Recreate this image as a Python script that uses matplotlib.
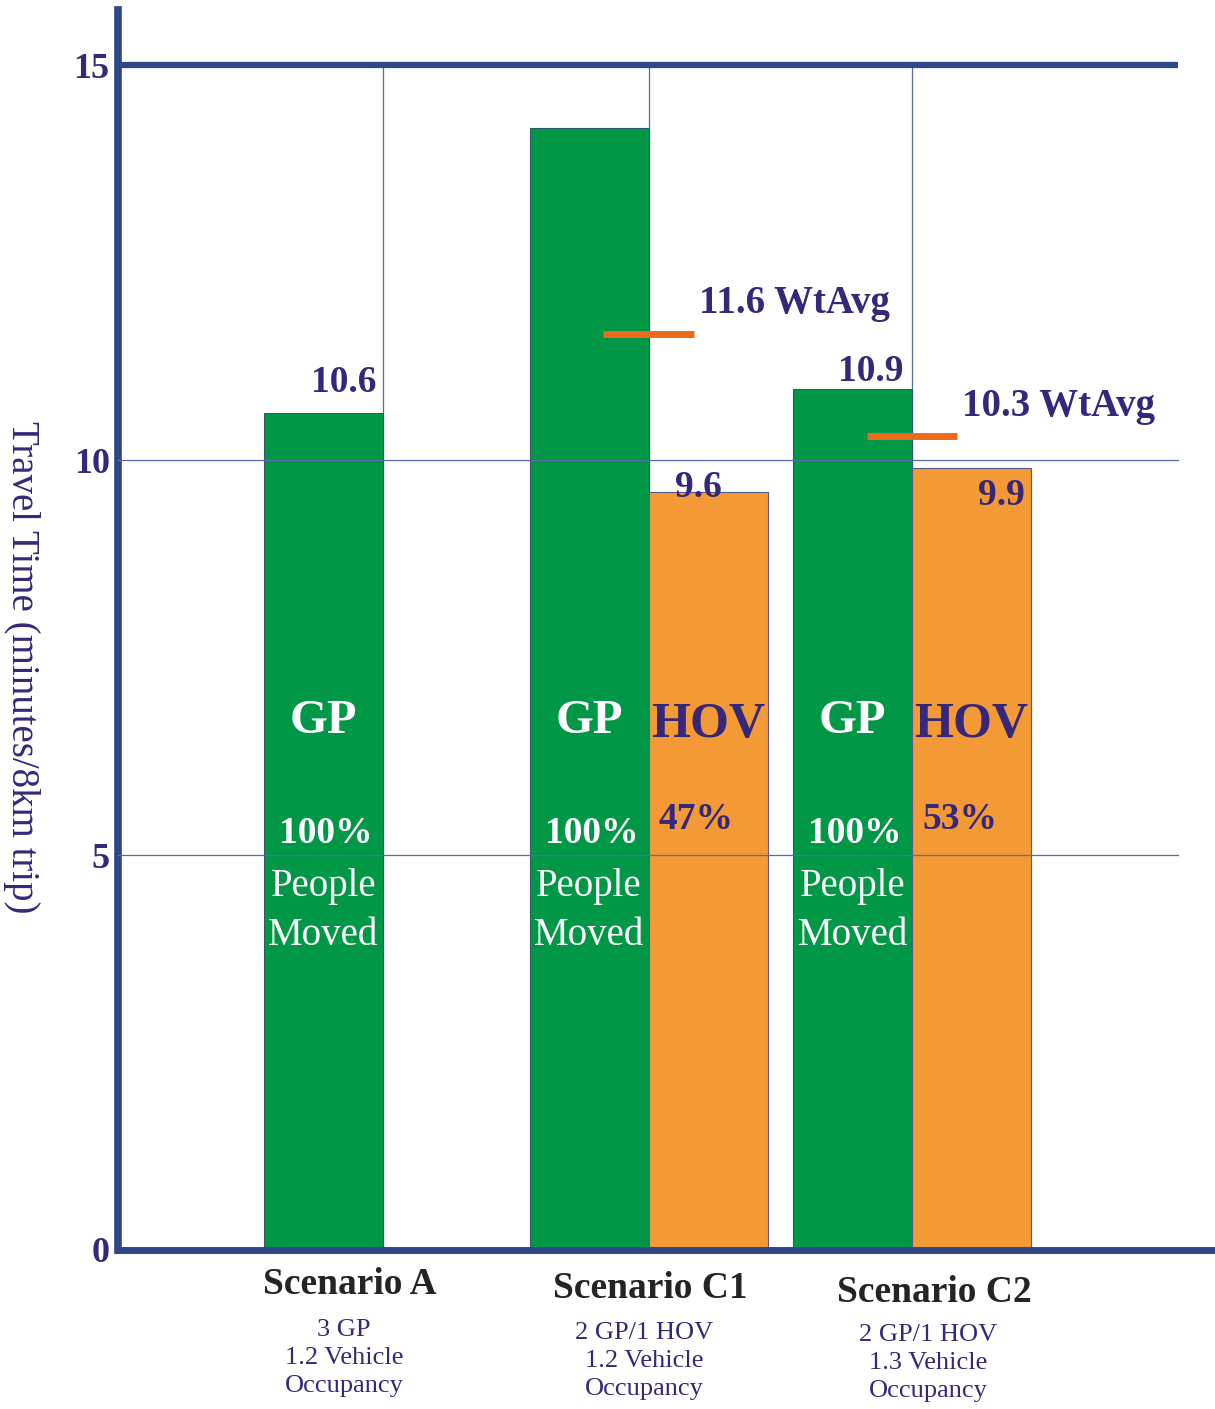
import matplotlib.pyplot as plt

plt.rcParams['font.family'] = ['Liberation Serif', 'DejaVu Serif']

# travel time per scenario (minutes / 8 km trip)
scenarios = ['Scenario A', 'Scenario C1', 'Scenario C2']
sublabels = ['3 GP\n1.2 Vehicle\nOccupancy',
             '2 GP/1 HOV\n1.2 Vehicle\nOccupancy',
             '2 GP/1 HOV\n1.3 Vehicle\nOccupancy']
gp_time = [10.6, 14.2, 10.9]
hov_time = [None, 9.6, 9.9]
wt_avg = [None, 11.6, 10.3]
gp_share = ['100%', '100%', '100%']
hov_share = [None, '47%', '53%']
gp_labels = ['10.6', None, '10.9']
hov_labels = [None, '9.6', '9.9']

NAVY = '#35277a'
AXIS = '#2f4789'
GREEN = '#009846'
ORANGE = '#f39a36'
AVG = '#ec6a1c'

fig = plt.figure(figsize=(12.15, 14.09), dpi=100)
ax = fig.add_axes([0.0971, 0.1129, 0.9029, 0.8800])

pos = [2.225, 4.46, 6.675]
w = 1.0
ax.set_xlim(0, 9.22)
ax.set_ylim(0, 15.7)

for i, p in enumerate(pos):
    ax.bar(p - w / 2, gp_time[i], width=w, color=GREEN, edgecolor='#2d5a6e',
           linewidth=0.8, zorder=2)
    if hov_time[i] is not None:
        ax.bar(p + w / 2, hov_time[i], width=w, color=ORANGE, edgecolor='#5a5a90',
               linewidth=0.8, zorder=2)
    if wt_avg[i] is not None:
        ax.plot([p - 0.38, p + 0.38], [wt_avg[i], wt_avg[i]], color=AVG,
                linewidth=5, solid_capstyle='butt', zorder=4)
        ax.text(p + 0.42, wt_avg[i] + 0.38, f'{wt_avg[i]:.1f} WtAvg',
                fontsize=28, fontweight='bold', color=NAVY, ha='left', va='center')

# grid: horizontal lines drawn over the bars, vertical ones behind
for yv in (5, 10):
    ax.plot([0, 8.91], [yv, yv], color='#5a6aa8', linewidth=0.9, zorder=3)
ax.plot([0, 8.91], [15, 15], color=AXIS, linewidth=4.5, zorder=3,
        solid_capstyle='butt')
for p in pos:
    ax.plot([p, p], [0, 15], color='#5a6aa8', linewidth=0.9, zorder=1)

# value labels
ax.text(pos[0] - 0.33, 10.6 + 0.38, gp_labels[0], fontsize=27, fontweight='bold',
        color=NAVY, ha='center', va='center')
ax.text(pos[2] - 0.35, 10.9 + 0.22, gp_labels[2], fontsize=27, fontweight='bold',
        color=NAVY, ha='center', va='center')
ax.text(pos[1] + 0.42, 9.6 + 0.06, hov_labels[1], fontsize=27, fontweight='bold',
        color=NAVY, ha='center', va='center')
ax.text(pos[2] + 0.75, 9.9 - 0.35, hov_labels[2], fontsize=27, fontweight='bold',
        color=NAVY, ha='center', va='center')

# text inside bars
for i, p in enumerate(pos):
    gx = p - w / 2
    ax.text(gx, 6.7, 'GP', fontsize=35, fontweight='bold', color='white',
            ha='center', va='center', zorder=5)
    ax.text(gx + 0.02, 5.27, gp_share[i], fontsize=27, fontweight='bold',
            color='white', ha='center', va='center', zorder=5)
    ax.text(gx, 4.6, 'People', fontsize=28, color='white', ha='center',
            va='center', zorder=5)
    ax.text(gx, 3.98, 'Moved', fontsize=28, color='white', ha='center',
            va='center', zorder=5)
    if hov_share[i] is not None:
        hx = p + w / 2
        ax.text(hx, 6.65, 'HOV', fontsize=36, fontweight='bold', color=NAVY,
                ha='center', va='center', zorder=5)
        ax.text(hx - 0.1, 5.45, hov_share[i], fontsize=27, fontweight='bold',
                color=NAVY, ha='center', va='center', zorder=5)

# category labels under the axis
cat_x = [1.95, 4.47, 6.86]
for i, cx in enumerate(cat_x):
    ax.text(cx, -0.44 - 0.05 * i, scenarios[i], fontsize=27, fontweight='bold',
            color='#242424', ha='center', va='center', clip_on=False)
    ax.text(cx - 0.05, -0.88 - 0.03 * i, sublabels[i], fontsize=19, color=NAVY,
            ha='center', va='top', linespacing=1.35, clip_on=False)

# axes styling
for s in ('top', 'right'):
    ax.spines[s].set_visible(False)
ax.spines['left'].set_color(AXIS)
ax.spines['left'].set_linewidth(5.5)
ax.spines['bottom'].set_color(AXIS)
ax.spines['bottom'].set_linewidth(5)
ax.set_xticks([])
ax.set_yticks([0, 5, 10, 15])
ax.set_yticklabels(['0', '5', '10', '15'], fontsize=26, fontweight='bold', color=NAVY)
ax.tick_params(axis='y', length=0, pad=6)
ax.set_ylabel('Travel Time (minutes/8km trip)', fontsize=28, color=NAVY,
              rotation=270)
ax.yaxis.set_label_coords(-0.105, 0.47)

fig.savefig('out.png', dpi=100)
